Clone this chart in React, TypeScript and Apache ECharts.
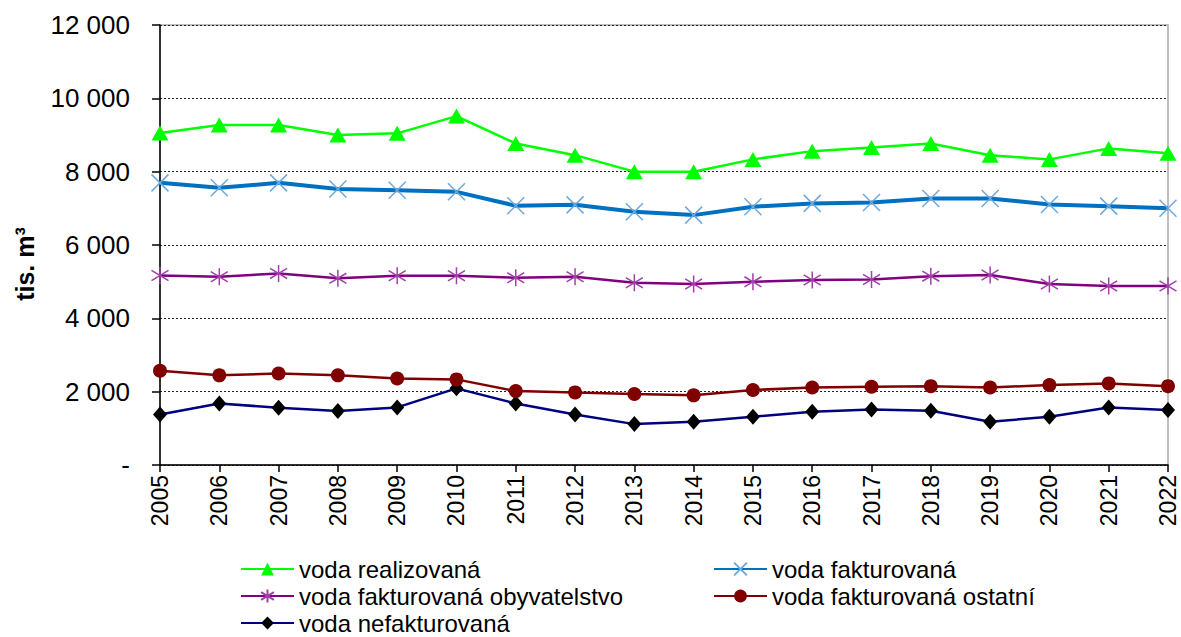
import React, { useEffect, useRef } from "react";
import * as echarts from "echarts";

const years = ["2005","2006","2007","2008","2009","2010","2011","2012","2013","2014","2015","2016","2017","2018","2019","2020","2021","2022"];
const realizovana = [9055, 9270, 9270, 9000, 9045, 9515, 8770, 8450, 8000, 8000, 8335, 8560, 8660, 8770, 8450, 8335, 8635, 8500];
const fakturovana = [7695, 7560, 7695, 7525, 7495, 7450, 7070, 7095, 6905, 6815, 7045, 7135, 7160, 7270, 7270, 7105, 7060, 7000];
const obyvatelstvo = [5170, 5135, 5225, 5090, 5160, 5160, 5105, 5135, 4970, 4935, 4995, 5045, 5060, 5150, 5180, 4935, 4880, 4880];
const ostatni = [2570, 2445, 2495, 2445, 2360, 2335, 2015, 1980, 1935, 1900, 2045, 2115, 2135, 2150, 2115, 2180, 2225, 2150];
const nefakturovana = [1380, 1680, 1560, 1470, 1570, 2090, 1680, 1380, 1115, 1180, 1315, 1450, 1515, 1480, 1180, 1315, 1570, 1500];

const yTicks = [0, 2000, 4000, 6000, 8000, 10000, 12000];

const seriesNames = [
  "voda realizovaná",
  "voda fakturovaná",
  "voda fakturovaná obyvatelstvo",
  "voda fakturovaná ostatní",
  "voda nefakturovaná",
];

const FONT = "'Liberation Sans', Arial, sans-serif";

const fmt = (v: number) => (v === 0 ? "-" : String(v).replace(/\B(?=(\d{3})+(?!\d))/g, " "));

export default function App() {
  const ref = useRef<HTMLDivElement>(null);
  useEffect(() => {
    if (!ref.current) return;
    const chart = echarts.init(ref.current, null, { renderer: "svg" });
    const legendText = { fontFamily: FONT, fontSize: 24, color: "#000", lineHeight: 24 };
    const legendPos: [number, number][] = [
      [240, 557],
      [713, 557],
      [240, 584],
      [713, 584],
      [240, 611],
    ];
    const legends = seriesNames.map((n, i) => ({
      orient: "horizontal",
      left: legendPos[i][0],
      top: legendPos[i][1],
      itemWidth: 53,
      itemHeight: 16,
      padding: 0,
      textStyle: legendText,
      data: [n],
    }));
    chart.setOption({
      animation: false,
      backgroundColor: "#fff",
      grid: {
        left: 160, right: 13, top: 25, bottom: 172,
        show: true, borderColor: "#aaaaaa", borderWidth: 1.5, backgroundColor: "transparent",
      },
      legend: legends,
      xAxis: {
        type: "category",
        data: years,
        boundaryGap: false,
        axisLine: { lineStyle: { color: "#000", width: 1.5 } },
        axisTick: { show: true, length: 7, lineStyle: { color: "#000", width: 1.5 } },
        axisLabel: { rotate: 90, margin: 10, fontFamily: FONT, fontSize: 23, color: "#000", interval: 0 },
        splitLine: { show: false },
      },
      yAxis: {
        type: "value",
        min: yTicks[0],
        max: yTicks[yTicks.length - 1],
        interval: 2000,
        axisLine: { show: true, lineStyle: { color: "#000", width: 1.5 } },
        axisTick: { show: true, length: 8, lineStyle: { color: "#000", width: 1.5 } },
        axisLabel: { margin: 30, fontFamily: FONT, fontSize: 26, color: "#000", formatter: fmt },
        splitLine: { show: true, lineStyle: { color: "#222", type: [2, 2], width: 1 } },
      },
      graphic: [
        {
          type: "text",
          x: 25, y: 264, rotation: Math.PI / 2,
          style: {
            text: "tis. m³", fontFamily: FONT, fontSize: 25, fontWeight: "bold", fill: "#000",
            align: "center", verticalAlign: "middle",
          },
        },
      ],
      series: [
        {
          name: seriesNames[0], type: "line", data: realizovana,
          symbol: "triangle", symbolSize: [17, 15],
          lineStyle: { color: "#00ff00", width: 2.5 },
          itemStyle: { color: "#00ff00" },
          z: 5,
        },
        {
          name: seriesNames[1], type: "line", data: fakturovana,
          symbol: "path://M0,0L20,20M20,0L0,20", symbolSize: 17,
          lineStyle: { color: "#0070c0", width: 4 },
          itemStyle: { color: "transparent", borderColor: "#6fa8dc", borderWidth: 1.5 },
          z: 4,
        },
        {
          name: seriesNames[2], type: "line", data: obyvatelstvo,
          symbol: "path://M10,0L10,20M1,4L19,16M1,16L19,4", symbolSize: 17,
          lineStyle: { color: "#800080", width: 2.5 },
          itemStyle: { color: "transparent", borderColor: "#a040a8", borderWidth: 1.5 },
          z: 4,
        },
        {
          name: seriesNames[3], type: "line", data: ostatni,
          symbol: "circle", symbolSize: 14,
          lineStyle: { color: "#800000", width: 2.5 },
          itemStyle: { color: "#800000" },
          z: 4,
        },
        {
          name: seriesNames[4], type: "line", data: nefakturovana,
          symbol: "diamond", symbolSize: [14, 16],
          lineStyle: { color: "#000080", width: 2.5 },
          itemStyle: { color: "#000000" },
          z: 3,
        },
      ],
    });
    return () => chart.dispose();
  }, []);
  return (
    <div
      ref={ref}
      style={{ position: "fixed", left: 0, top: 0, width: 1181, height: 637, background: "#fff" }}
    />
  );
}
